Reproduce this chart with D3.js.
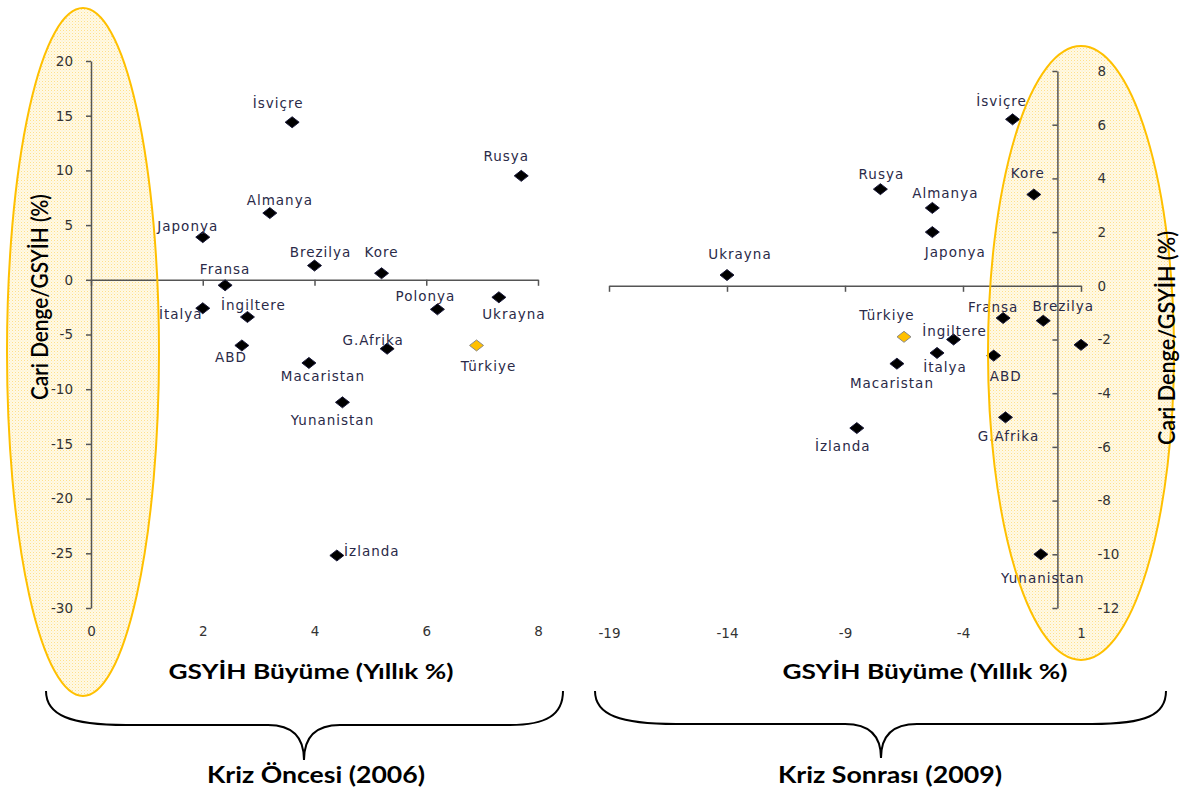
<!DOCTYPE html>
<html>
<head>
<meta charset="utf-8">
<script src="https://cdn.jsdelivr.net/npm/d3@7"></script>
<style>
body { margin: 0; background: #fff; }
.tick text { font-family: "DejaVu Sans", Verdana, sans-serif; font-size: 13.5px; fill: #333; }
.axis path, .axis line { stroke: #555; stroke-width: 1.5; }
.lbl { font-family: "DejaVu Sans", Verdana, sans-serif; font-size: 13.5px; fill: #2a2a48; letter-spacing: 1px; }
</style>
</head>
<body>
<svg id="chart" width="1182" height="794"></svg>
<script>
// Kriz Öncesi (2006)
var countries06 = ["İsviçre", "Rusya", "Almanya", "Japonya", "Brezilya", "Kore", "Fransa", "İtalya",
    "İngiltere", "ABD", "Macaristan", "Yunanistan", "G.Afrika", "Polonya", "Ukrayna", "Türkiye", "İzlanda"];
var growth06 = [3.6, 7.7, 3.2, 2.0, 4.0, 5.2, 2.4, 2.0, 2.8, 2.7, 3.9, 4.5, 5.3, 6.2, 7.3, 6.9, 4.4];
var balance06 = [14.4, 9.5, 6.1, 3.9, 1.3, 0.6, -0.5, -2.6, -3.4, -6.0, -7.6, -11.2, -6.3, -2.7, -1.6, -6.0, -25.2];

// Kriz Sonrası (2009)
var countries09 = ["İsviçre", "Kore", "Rusya", "Almanya", "Japonya", "Ukrayna", "Fransa", "Brezilya", "Polonya",
    "Türkiye", "İngiltere", "İtalya", "Macaristan", "ABD", "G.Afrika", "İzlanda", "Yunanistan"];
var growth09 = [-1.9, -1.0, -7.5, -5.3, -5.3, -14.0, -2.3, -0.6, 1.0, -6.5, -4.4, -5.1, -6.8, -2.7, -2.2, -8.5, -0.7];
var balance09 = [6.2, 3.4, 3.6, 2.9, 2.0, 0.4, -1.2, -1.3, -2.2, -1.9, -2.0, -2.5, -2.9, -2.6, -4.9, -5.3, -10.0];

var xTicks06 = [0, 2, 4, 6, 8];
var yTicks06 = [-30, -25, -20, -15, -10, -5, 0, 5, 10, 15, 20];
var xTicks09 = [-19, -14, -9, -4, 1];
var yTicks09 = [-12, -10, -8, -6, -4, -2, 0, 2, 4, 6, 8];

var highlight = "Türkiye";

// label offsets from the marker (text centre), px; Polonya 2009 has no label
var offsets06 = {
    "İsviçre": [-14, -19], "Rusya": [-15, -20], "Almanya": [10, -13], "Japonya": [-15, -11],
    "Brezilya": [6, -13], "Kore": [0, -21], "Fransa": [0, -16], "İtalya": [-22, 6],
    "İngiltere": [6, -12], "ABD": [-11, 12], "Macaristan": [14, 13], "Yunanistan": [-10, 18],
    "G.Afrika": [-14, -8], "Polonya": [-12, -13], "Ukrayna": [15, 17], "Türkiye": [12, 21], "İzlanda": [35, -4]
};
var offsets09 = {
    "İsviçre": [-11, -18], "Kore": [-6, -21], "Rusya": [1, -15], "Almanya": [13, -15], "Japonya": [23, 20],
    "Ukrayna": [13, -21], "Fransa": [-10, -11], "Brezilya": [20, -14], "Türkiye": [-17, -22],
    "İngiltere": [1, -8], "İtalya": [8, 14], "Macaristan": [-5, 20], "ABD": [12, 21],
    "G.Afrika": [3, 19], "İzlanda": [-14, 18], "Yunanistan": [2, 24]
};

var ellipses = [[83, 352, 76, 344], [1081, 353, 93, 307]];

var svg = d3.select("#chart");

var defs = svg.append("defs");
var pat = defs.append("pattern")
    .attr("id", "dots")
    .attr("width", 3).attr("height", 3)
    .attr("patternUnits", "userSpaceOnUse");
pat.append("rect").attr("width", 3).attr("height", 3).attr("fill", "#fff9e6");
pat.append("rect").attr("width", 1).attr("height", 1).attr("fill", "#ffe08a");
pat.append("rect").attr("x", 1.5).attr("y", 1.5).attr("width", 1).attr("height", 1).attr("fill", "#ffedb8");

// ellipse fills go under everything
svg.selectAll("ellipse.fill").data(ellipses).enter().append("ellipse")
    .attr("class", "fill")
    .attr("cx", function(d) { return d[0]; }).attr("cy", function(d) { return d[1]; })
    .attr("rx", function(d) { return d[2]; }).attr("ry", function(d) { return d[3]; })
    .attr("fill", "url(#dots)");

var diamond = "M-7,0L0,-5.5L7,0L0,5.5Z";
var plain = function(d) { return String(d); };

function drawPanel(opts) {
    var x = d3.scaleLinear().domain(opts.xDomain).range(opts.xRange);
    var y = d3.scaleLinear().domain(opts.yDomain).range(opts.yRange);
    var g = svg.append("g");

    // x axis line through zero with ticks below
    g.append("g").attr("class", "axis")
        .attr("transform", "translate(0," + y(0) + ")")
        .call(d3.axisBottom(x).tickValues(opts.xTicks).tickSize(6).tickSizeOuter(0).tickFormat(""));
    // x labels at the bottom
    g.append("g")
        .attr("transform", "translate(0," + opts.xLabelY + ")")
        .call(d3.axisBottom(x).tickValues(opts.xTicks).tickSize(0).tickPadding(0).tickFormat(plain))
        .call(function(s) { s.select(".domain").remove(); });

    // y axis line through zero
    g.append("g").attr("class", "axis")
        .attr("transform", "translate(" + x(0) + ",0)")
        .call(d3.axisLeft(y).tickValues(opts.yTicks).tickSize(5).tickSizeOuter(0)
            .tickPadding(13).tickFormat(opts.yLabelsLeft ? plain : ""));
    if (!opts.yLabelsLeft) {
        g.append("g")
            .attr("transform", "translate(" + x(0) + ",0)")
            .call(d3.axisRight(y).tickValues(opts.yTicks).tickSize(0).tickPadding(40).tickFormat(plain))
            .call(function(s) { s.select(".domain").remove(); });
    }

    var pts = opts.names.map(function(n, i) {
        return { name: n, gx: opts.xs[i], cy: opts.ys[i] };
    });

    g.selectAll("path.pt").data(pts).enter().append("path")
        .attr("class", "pt")
        .attr("d", diamond)
        .attr("transform", function(d) { return "translate(" + x(d.gx) + "," + y(d.cy) + ")"; })
        .attr("fill", function(d) { return d.name === highlight ? "#ffc000" : "#000"; })
        .attr("stroke", function(d) { return d.name === highlight ? "#8a8a8a" : "#1a1a3a"; })
        .attr("stroke-width", 1);

    g.selectAll("text.lbl").data(pts.filter(function(d) { return opts.offsets[d.name]; }))
        .enter().append("text")
        .attr("class", "lbl")
        .attr("text-anchor", "middle")
        .attr("dy", "0.35em")
        .attr("x", function(d) { return x(d.gx) + opts.offsets[d.name][0]; })
        .attr("y", function(d) { return y(d.cy) + opts.offsets[d.name][1]; })
        .text(function(d) { return d.name; });
}

drawPanel({
    names: countries06, xs: growth06, ys: balance06, offsets: offsets06,
    xDomain: [0, 8], xRange: [91, 538], yDomain: [-30, 20], yRange: [608, 61],
    xTicks: xTicks06, yTicks: yTicks06, xLabelY: 626, yLabelsLeft: true
});
drawPanel({
    names: countries09, xs: growth09, ys: balance09, offsets: offsets09,
    xDomain: [-19, 1], xRange: [609, 1081], yDomain: [-12, 8], yRange: [608, 71],
    xTicks: xTicks09, yTicks: yTicks09, xLabelY: 628, yLabelsLeft: false
});

// ellipse outlines on top
svg.selectAll("ellipse.ring").data(ellipses).enter().append("ellipse")
    .attr("class", "ring")
    .attr("cx", function(d) { return d[0]; }).attr("cy", function(d) { return d[1]; })
    .attr("rx", function(d) { return d[2]; }).attr("ry", function(d) { return d[3]; })
    .attr("fill", "none").attr("stroke", "#ffc000").attr("stroke-width", 2);

// axis titles
function title(txt, x, y, rot, len, size, weight) {
    svg.append("text")
        .attr("transform", "translate(" + x + "," + y + ")" + (rot ? " rotate(" + rot + ")" : ""))
        .attr("text-anchor", "middle")
        .attr("dy", "0.35em")
        .attr("textLength", len)
        .attr("lengthAdjust", "spacingAndGlyphs")
        .style("font-family", "Lato, 'Open Sans', sans-serif")
        .style("font-size", size + "px")
        .style("font-weight", weight)
        .style("fill", "#000")
        .text(txt);
}
title("GSYİH Büyüme (Yıllık %)", 311, 672, 0, 285, 21, "bold");
title("GSYİH Büyüme (Yıllık %)", 925, 672, 0, 285, 21, "bold");
title("Cari Denge/GSYİH (%)", 40, 297, -90, 206, 22, "600");
title("Cari Denge/GSYİH (%)", 1167, 338, -90, 214, 22, "600");
title("Kriz Öncesi (2006)", 316, 775, 0, 218, 23, "bold");
title("Kriz Sonrası (2009)", 890, 775, 0, 224, 23, "bold");

// braces
var braces = [
    "M46,691 C46,715 70,725 126,725 L268,725 C292,725 304,737 304,760 C304,737 316,725 340,725 L510,725 C546,725 563,715 563,691",
    "M595,691 C595,715 620,724 676,724 L845,724 C869,724 881,736 881,758 C881,736 893,724 917,724 L1092,724 C1146,724 1166,715 1166,691"
];
svg.selectAll("path.brace").data(braces).enter().append("path")
    .attr("class", "brace")
    .attr("d", function(d) { return d; })
    .attr("fill", "none").attr("stroke", "#000").attr("stroke-width", 2);
</script>
</body>
</html>
